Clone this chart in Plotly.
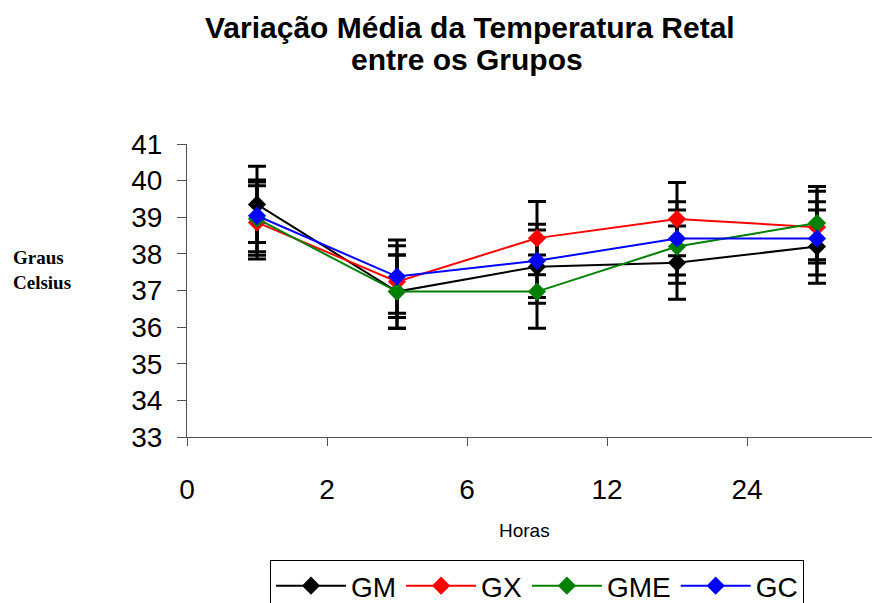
import plotly.graph_objects as go

horas = ["0", "2", "6", "12", "24"]
series_names = ["GM", "GX", "GME", "GC"]
colors = ["#000000", "#ff0000", "#008000", "#0000ff"]
GM = [39.35, 36.97, 37.65, 37.76, 38.2]
GX = [38.86, 37.24, 38.43, 38.95, 38.73]
GME = [38.96, 36.97, 36.97, 38.2, 38.84]
GC = [39.04, 37.38, 37.81, 38.42, 38.42]
GM_err = [1.04, 1.0, 1.0, 1.0, 1.0]
GX_err = [1.0, 0.98, 1.0, 1.0, 0.98]
GME_err = [1.0, 1.0, 1.0, 1.0, 1.0]
GC_err = [0.98, 1.0, 1.0, 1.0, 1.0]

values = [GM, GX, GME, GC]
errors = [GM_err, GX_err, GME_err, GC_err]
xpos = [i + 0.5 for i in range(len(horas))]

# page is rendered with an 8px body margin; figure coords = page coords - 8
OFF = 8
W, H = 880 - OFF, 603 - OFF
L, R, T = 187 - OFF, 0, 144 - OFF
B = H - (437 - OFF)
plot_w = W - L - R
plot_h = H - T - B


def px(x):
    return (x - OFF - L) / plot_w


def py(y):
    return (H - B - (y - OFF)) / plot_h


fig = go.Figure()
# error bars first (drawn behind lines and markers)
for name, v, e in zip(series_names, values, errors):
    fig.add_trace(go.Scatter(
        x=xpos, y=v, mode="markers", showlegend=False, hoverinfo="skip",
        marker=dict(size=1, color="rgba(0,0,0,0)"),
        error_y=dict(type="data", array=e, visible=True, color="black",
                     thickness=3, width=9),
    ))
for name, v, c in zip(series_names, values, colors):
    fig.add_trace(go.Scatter(
        x=xpos, y=v, mode="lines+markers", name=name,
        line=dict(color=c, width=2),
        marker=dict(symbol="diamond", size=14, color=c),
    ))

fig.update_layout(
    width=W, height=H,
    margin=dict(l=L, r=R, t=T, b=B, autoexpand=False),
    paper_bgcolor="white", plot_bgcolor="white",
    font=dict(family="Liberation Sans, Arial, sans-serif", color="black"),
    showlegend=True,
    legend=dict(orientation="h", x=px(537), xanchor="center", y=py(560), yanchor="top",
                font=dict(size=28), bordercolor="black", borderwidth=1,
                itemwidth=70, bgcolor="white", tracegroupgap=0),
    xaxis=dict(range=[0, plot_w / 140.0], tickmode="array", tickvals=list(range(len(horas))),
               ticktext=horas, showgrid=False, zeroline=False, automargin=False,
               showline=True, linecolor="#505050", linewidth=1,
               ticks="outside", ticklen=8, tickcolor="#505050",
               tickfont=dict(size=28), ticklabelstandoff=19),
    yaxis=dict(range=[33, 41], dtick=1, showgrid=False, zeroline=False, automargin=False,
               showline=True, linecolor="#505050", linewidth=1,
               ticks="outside", ticklen=9, tickcolor="#505050",
               tickfont=dict(size=28), ticklabelstandoff=9),
)

title_font = dict(size=30, family="Liberation Sans, Arial, sans-serif", color="black")
fig.add_annotation(text="<b>Variação Média da Temperatura Retal</b>", xref="paper", yref="paper",
                   x=px(470), y=py(27), xanchor="center", yanchor="middle",
                   showarrow=False, font=title_font)
fig.add_annotation(text="<b>entre os Grupos</b>", xref="paper", yref="paper",
                   x=px(467), y=py(60), xanchor="center", yanchor="middle",
                   showarrow=False, font=title_font)

serif = dict(size=19, family="Liberation Serif, Times New Roman, serif", color="black")
fig.add_annotation(text="<b>Graus</b>", xref="paper", yref="paper",
                   x=px(11), y=py(257), xanchor="left", yanchor="middle",
                   showarrow=False, font=serif)
fig.add_annotation(text="<b>Celsius</b>", xref="paper", yref="paper",
                   x=px(11), y=py(282), xanchor="left", yanchor="middle",
                   showarrow=False, font=serif)
fig.add_annotation(text="Horas", xref="paper", yref="paper",
                   x=px(524), y=py(530), xanchor="center", yanchor="middle",
                   showarrow=False, font=dict(size=19))

fig.write_html("out.html")
